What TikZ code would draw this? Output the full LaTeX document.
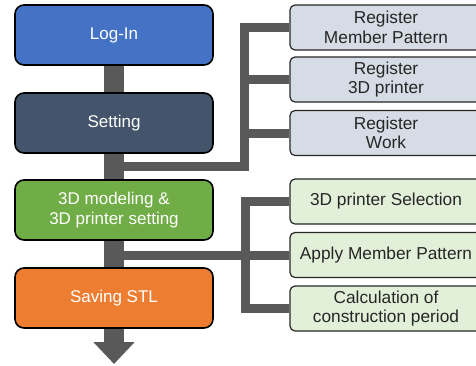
\documentclass[tikz,border=0pt]{standalone}
\usepackage{fontspec}
\setmainfont{Liberation Sans}
\usetikzlibrary{arrows.meta,backgrounds}

\definecolor{loginblue}{HTML}{4472C4}
\definecolor{settingslate}{HTML}{44546A}
\definecolor{modelgreen}{HTML}{70AD47}
\definecolor{stlorange}{HTML}{ED7D31}
\definecolor{trunkgray}{HTML}{595959}
\definecolor{regfill}{HTML}{D6DCE5}
\definecolor{selfill}{HTML}{E2F0D9}

\tikzset{
  stage/.style={draw=black,line width=1.6pt,rounded corners=9pt,
    minimum width=198pt,minimum height=60pt,text=white,align=center,
    font=\fontsize{17}{20}\selectfont},
  task/.style={draw=black!85,line width=1.2pt,rounded corners=5pt,
    minimum width=192pt,minimum height=45pt,text=black!85,align=center,
    font=\fontsize{17.3}{19.5}\selectfont},
  trunk/.style={draw=trunkgray,line width=20pt},
  branch/.style={draw=trunkgray,line width=9pt}
}

\begin{document}
\begin{tikzpicture}[x=1pt,y=-1pt]
        \clip (0,0) rectangle (476,365);

        \node[stage,fill=loginblue] (login) at (114, 35) {Log-In};
        \node[stage,fill=settingslate] (setting) at (114,123) {Setting};
        \node[stage,fill=modelgreen] (model) at (114,210) {3D modeling \&\\3D printer setting};
        \node[stage,fill=stlorange] (stl) at (114,298) {Saving STL};

        \node[task,fill=regfill] (regpat) at (386, 27.5) {Register\\Member Pattern};
        \node[task,fill=regfill] (regprn) at (386, 79.5) {Register\\3D printer};
        \node[task,fill=regfill] (regwork) at (386,133) {Register\\Work};

        \node[task,fill=selfill] (selprn) at (386,201.5) {3D printer Selection};
        \node[task,fill=selfill] (apply) at (386,255) {Apply Member Pattern};
        \node[task,fill=selfill] (calc) at (386,308.5) {Calculation of\\construction period};

        \coordinate (end) at (114,364);
        \coordinate (split1) at (114,166);
        \coordinate (bus1) at (244,166);
        \coordinate (split2) at (114,255);
        \coordinate (bus2) at (245,255);

        \begin{scope}[on background layer]
          \fill[white] (0,0) rectangle (476,365);
          \draw[trunk] (login.center) -- (stl.center);
          \draw[trunk,-{Triangle[width=40pt,length=22pt]}] (stl.south) -- (end);

          \draw[branch] (split1) -- (bus1) |- (regpat.west);
          \draw[branch] (bus1) |- (regprn.west);
          \draw[branch] (bus1) |- (regwork.west);

          \draw[branch] (split2) -- (apply.west);
          \draw[branch] (selprn.west) -| (bus2) |- (calc.west);
        \end{scope}
      \end{tikzpicture}
\end{document}
